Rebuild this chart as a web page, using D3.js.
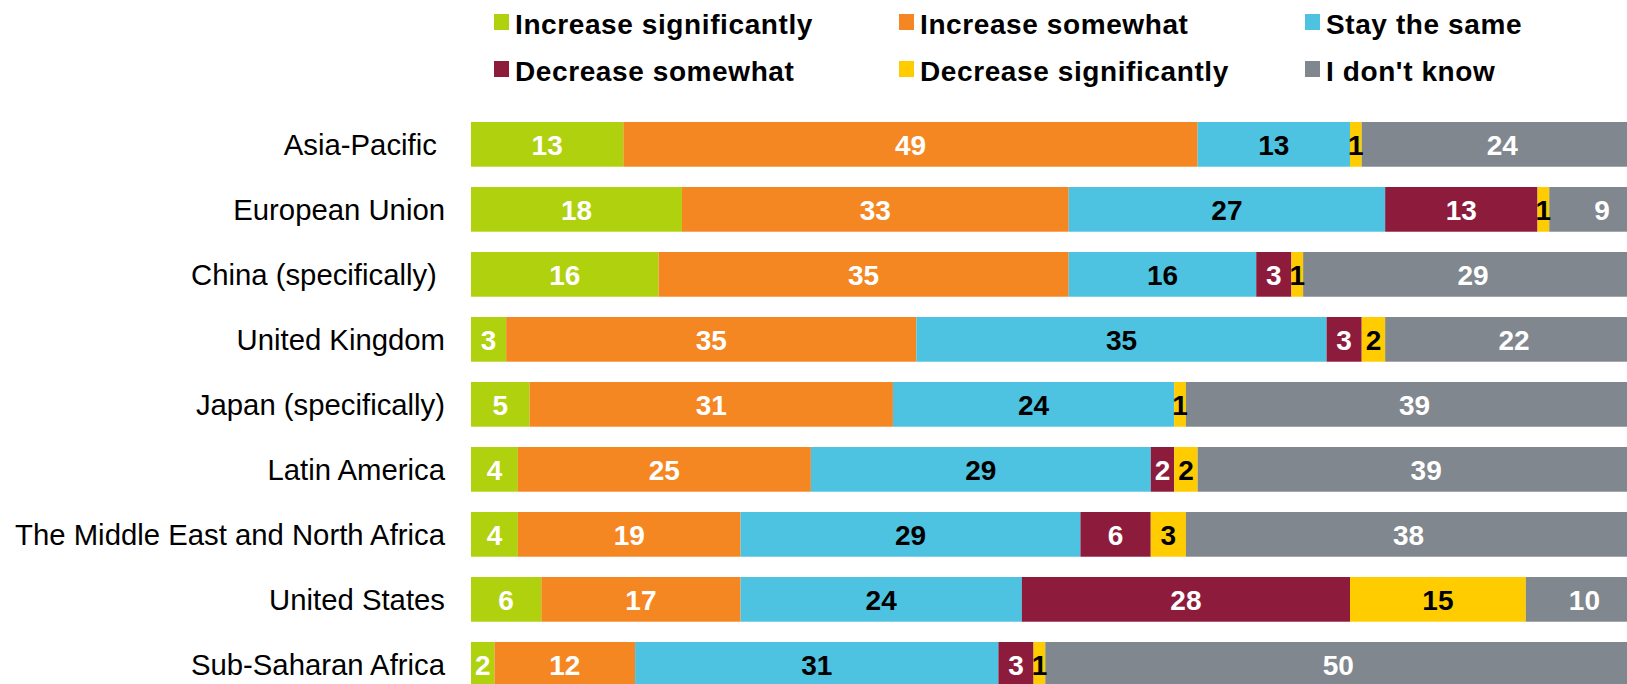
<!DOCTYPE html>
<html>
<head>
<meta charset="utf-8">
<script src="https://cdn.jsdelivr.net/npm/d3@7"></script>
<style>
  html, body { margin: 0; padding: 0; background: #fff; overflow: hidden; }
  svg { display: block; font-family: "Liberation Sans", Arial, sans-serif; }
  .cat { white-space: pre; }
</style>
</head>
<body>
<div id="chart"></div>
<script>
// Regions, top to bottom (some labels carry a trailing space)
const regions = [
  "Asia-Pacific ",
  "European Union",
  "China (specifically) ",
  "United Kingdom",
  "Japan (specifically)",
  "Latin America",
  "The Middle East and North Africa",
  "United States",
  "Sub-Saharan Africa"
];

// Response shares (%) per region
const increaseSignificantly = [13, 18, 16, 3, 5, 4, 4, 6, 2];
const increaseSomewhat      = [49, 33, 35, 35, 31, 25, 19, 17, 12];
const stayTheSame           = [13, 27, 16, 35, 24, 29, 29, 24, 31];
const decreaseSomewhat      = [0, 13, 3, 3, 0, 2, 6, 28, 3];
const decreaseSignificantly = [1, 1, 1, 2, 1, 2, 3, 15, 1];
const dontKnow              = [24, 9, 29, 22, 39, 39, 38, 10, 50];

const seriesNames = [
  "Increase significantly",
  "Increase somewhat",
  "Stay the same",
  "Decrease somewhat",
  "Decrease significantly",
  "I don't know"
];
const seriesValues = [
  increaseSignificantly, increaseSomewhat, stayTheSame,
  decreaseSomewhat, decreaseSignificantly, dontKnow
];
const seriesColors = ["#B0D10E", "#F58723", "#4DC3E1", "#8C1B3C", "#FFCC00", "#81878E"];
const labelColors  = ["#fff", "#fff", "#000", "#fff", "#000", "#fff"];

// Legend order: two rows of three
const legendOrder = [0, 1, 2, 3, 4, 5];

const W = 1627, H = 684;
const svg = d3.select("#chart").append("svg")
  .attr("width", W).attr("height", H);

// Build row table for stacking
const keys = seriesNames;
const table = regions.map((r, i) => {
  const row = { region: r };
  keys.forEach((k, j) => { row[k] = seriesValues[j][i]; });
  return row;
});
const stacked = d3.stack().keys(keys)(table);

const x = d3.scaleLinear().domain([0, 100]).range([471, 1643]);
const y = d3.scaleBand().domain(regions)
  .range([111.86, 111.86 + 65 * regions.length])
  .paddingInner(0.312).paddingOuter(0.156);

// Bars
const layers = svg.append("g").attr("class", "bars")
  .selectAll("g").data(stacked).join("g")
  .attr("fill", (d, i) => seriesColors[i]);

layers.selectAll("rect").data(d => d).join("rect")
  .attr("x", d => x(d[0]))
  .attr("y", d => y(d.data.region))
  .attr("width", d => x(d[1]) - x(d[0]))
  .attr("height", y.bandwidth());

// Value labels
const vlabels = svg.append("g").attr("class", "values")
  .selectAll("g").data(stacked).join("g")
  .attr("fill", (d, i) => labelColors[i]);

vlabels.selectAll("text").data(d => d.filter(s => s[1] - s[0] > 0)).join("text")
  .attr("x", d => (x(d[0]) + x(d[1])) / 2)
  .attr("y", d => y(d.data.region) + y.bandwidth() / 2 + 10.8)
  .attr("text-anchor", "middle")
  .attr("font-size", "28px")
  .attr("font-weight", "bold")
  .text(d => d[1] - d[0]);

// Category axis labels
const yAxis = d3.axisLeft(y).tickSize(0).tickPadding(0);
const ax = svg.append("g").attr("transform", "translate(445,0)").call(yAxis);
ax.select(".domain").remove();
ax.selectAll("text")
  .attr("class", "cat")
  .attr("font-family", "'Liberation Sans', Arial, sans-serif")
  .attr("font-size", "29.3px")
  .attr("fill", "#000")
  .attr("dy", null)
  .attr("y", 11);

// Legend
const legendCols = [494, 899, 1305];
const legendRows = [14, 61];
const legend = svg.append("g").attr("class", "legend")
  .selectAll("g").data(legendOrder).join("g")
  .attr("transform", (d, i) => `translate(${legendCols[i % 3]},${legendRows[Math.floor(i / 3)]})`);

legend.append("rect")
  .attr("width", 15).attr("height", 16)
  .attr("fill", d => seriesColors[d]);

legend.append("text")
  .attr("x", 21).attr("y", 19.5)
  .attr("font-size", "28px")
  .attr("font-weight", "bold")
  .attr("letter-spacing", "0.6px")
  .attr("fill", "#000")
  .text(d => seriesNames[d]);
</script>
</body>
</html>
